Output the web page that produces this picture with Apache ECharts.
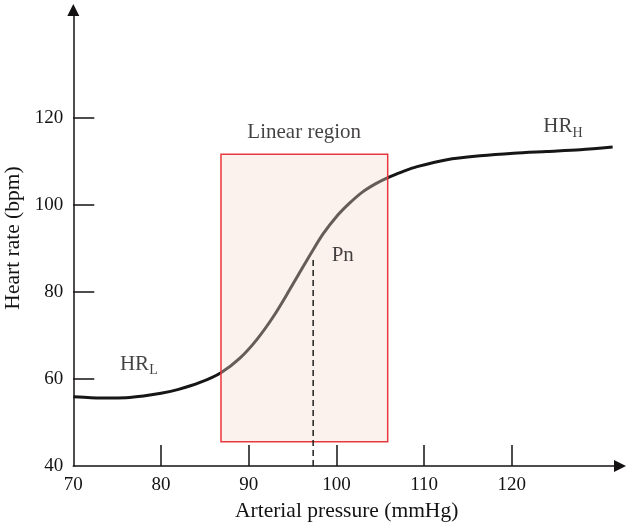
<!DOCTYPE html>
<html>
<head>
<meta charset="utf-8">
<script src="https://cdn.jsdelivr.net/npm/echarts@6/dist/echarts.min.js"></script>
<style>
html,body{margin:0;padding:0;background:#fff;}
#chart{width:626px;height:525px;}
</style>
</head>
<body>
<div id="chart"></div>
<script>
// Curve: arterial pressure (mmHg) vs heart rate (bpm)
var pressure = [70, 72, 74, 76, 78, 80, 82, 84.45, 86.84, 89.0, 90.9, 92.8, 94.7, 96.0, 97.2, 98.5, 100.0, 101.5, 103.0, 104.5, 106.0, 107.5, 109.2, 112.6, 116.4, 120.2, 124.0, 127.8, 131.5];
var heartRate = [55.9, 55.7, 55.6, 55.7, 56.1, 56.7, 57.6, 59.2, 61.45, 64.8, 69.0, 74.3, 80.6, 85.1, 89.2, 93.4, 97.3, 100.4, 103.0, 104.9, 106.4, 107.6, 108.8, 110.4, 111.3, 111.9, 112.3, 112.7, 113.3];

// Linear region box
var boxPressure = [86.84, 105.85];
var boxHeartRate = [45.6, 111.65];

// Operating point Pn
var pnPressure = 97.35;
var pnHeartRate = 88.1;

// Tick labels
var xTickLabels = [70, 80, 90, 100, 110, 120];
var xTicks = [80, 90, 100, 110, 120];
var yTickLabels = [40, 60, 80, 100, 120];
var yTicks = [60, 80, 100, 120];

// Annotations
var annoText = ['Linear region', 'Pn', 'HRL', 'HRH'];
var annoX = [96.33, 99.46, 75.32, 123.6];
var annoY = [116.4, 88.05, 63.06, 117.6];

var FONT = '"Liberation Serif", "Times New Roman", serif';
var TXT = '#141213';

var curveData = pressure.map(function (p, i) { return [p, heartRate[i]]; });

var annoData = annoText.map(function (t, i) {
  var d = { name: t, value: [annoX[i], annoY[i]] };
  if (t === 'Linear region') d.label = { align: 'center' };
  return d;
});

var chart = echarts.init(document.getElementById('chart'), null, { renderer: 'canvas' });

var subRich = {
  a: { fontFamily: FONT, fontSize: 21, color: TXT, lineHeight: 24, verticalAlign: 'top', textBorderWidth: 0 },
  b: { fontFamily: FONT, fontSize: 14, color: TXT, lineHeight: 16, padding: [10, 0, 0, 0], verticalAlign: 'top', textBorderWidth: 0 }
};

chart.setOption({
  animation: false,
  backgroundColor: '#ffffff',
  grid: { left: 73.3, right: 6, top: 10, bottom: 59, containLabel: false, outerBoundsMode: 'none' },
  xAxis: {
    type: 'value',
    min: 70,
    max: 132.34,
    interval: 10,
    name: 'Arterial pressure (mmHg)',
    nameLocation: 'middle',
    nameGap: 34,
    nameTextStyle: { fontFamily: FONT, fontSize: 21.5, color: TXT },
    axisLine: { show: true, symbol: ['none', 'triangle'], symbolSize: [12, 12], lineStyle: { color: TXT, width: 1.5 } },
    axisTick: { show: true, inside: true, length: 21, customValues: xTicks, lineStyle: { color: TXT, width: 1.5 } },
    axisLabel: { show: true, margin: 10, customValues: xTickLabels, fontFamily: FONT, fontSize: 19, color: TXT },
    splitLine: { show: false }
  },
  yAxis: {
    type: 'value',
    min: 40,
    max: 144.8,
    interval: 20,
    name: 'Heart rate (bpm)',
    nameLocation: 'middle',
    nameGap: 48,
    nameTextStyle: { fontFamily: FONT, fontSize: 21.5, color: TXT },
    axisLine: { show: true, symbol: ['none', 'triangle'], symbolSize: [12, 12], lineStyle: { color: TXT, width: 1.5 } },
    axisTick: { show: true, inside: true, length: 21, customValues: yTicks, lineStyle: { color: TXT, width: 1.5 } },
    axisLabel: { show: true, margin: 10, customValues: yTickLabels, fontFamily: FONT, fontSize: 19, color: TXT },
    splitLine: { show: false }
  },
  series: [
    {
      type: 'line',
      data: curveData,
      smooth: 0.3,
      symbol: 'none',
      z: 2,
      lineStyle: { color: '#161616', width: 3 }
    },
    {
      type: 'custom',
      z: 5,
      data: [[boxPressure[0], boxHeartRate[0], boxPressure[1], boxHeartRate[1]]],
      renderItem: function (params, api) {
        var p0 = api.coord([api.value(0), api.value(3)]);
        var p1 = api.coord([api.value(2), api.value(1)]);
        return {
          type: 'rect',
          shape: { x: p0[0], y: p0[1], width: p1[0] - p0[0], height: p1[1] - p0[1] },
          style: { fill: 'rgba(246,218,206,0.36)', stroke: '#e8383d', lineWidth: 1.5 }
        };
      },
      silent: true
    },
    {
      type: 'line',
      data: [[pnPressure, 40], [pnPressure, pnHeartRate]],
      symbol: 'none',
      z: 6,
      lineStyle: { color: '#1e1e1e', width: 1.5, type: [6, 4] }
    },
    {
      type: 'scatter',
      z: 7,
      symbolSize: 0,
      itemStyle: { color: TXT },
      data: annoData,
      label: {
        show: true,
        position: 'inside',
        color: TXT,
        textBorderWidth: 0,
        formatter: function (p) {
          if (p.name === 'HRL') return '{a|HR}{b|L}';
          if (p.name === 'HRH') return '{a|HR}{b|H}';
          return '{a|' + p.name + '}';
        },
        align: 'left',
        verticalAlign: 'middle',
        rich: subRich
      }
    }
  ]
});
</script>
</body>
</html>
